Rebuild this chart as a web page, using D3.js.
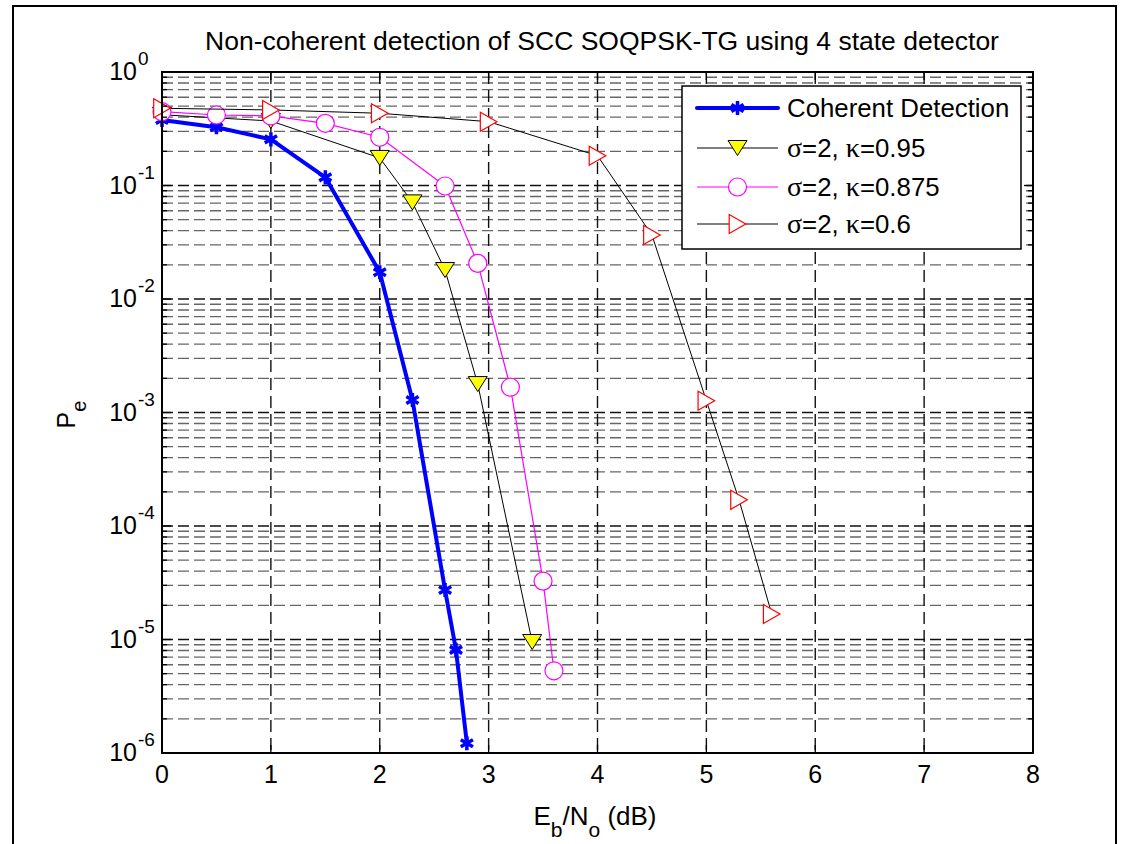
<!DOCTYPE html>
<html>
<head>
<meta charset="utf-8">
<script src="https://cdn.jsdelivr.net/npm/d3@7"></script>
<style>
  body { margin: 0; background: #fff; }
  svg text { font-family: "Liberation Sans", Arial, sans-serif; fill: #000; }
  .greek { font-family: "Liberation Serif", "Times New Roman", serif; }
</style>
</head>
<body>
<div id="chart"></div>
<script>
// Data (Eb/No in dB, Pe)
const ebnoCoherent = [0, 0.5, 1, 1.5, 2, 2.3, 2.6, 2.7, 2.8];
const peCoherent = [0.378, 0.326, 0.255, 0.118, 0.0172, 1.29e-3, 2.73e-5, 8.1e-6, 1.22e-6];

const ebnoK095 = [0, 1, 2, 2.3, 2.6, 2.9, 3.4];
const peK095 = [0.42, 0.37, 0.175, 0.071, 0.018, 1.78e-3, 9.5e-6];

const ebnoK0875 = [0, 0.5, 1, 1.5, 2, 2.6, 2.9, 3.2, 3.5, 3.6];
const peK0875 = [0.447, 0.418, 0.41, 0.353, 0.266, 0.099, 0.0206, 1.67e-3, 3.27e-5, 5.3e-6];

const ebnoK06 = [0, 1, 2, 3, 4, 4.5, 5, 5.3, 5.6];
const peK06 = [0.479, 0.463, 0.433, 0.365, 0.183, 0.0366, 1.27e-3, 1.7e-4, 1.68e-5];

const xTicks = [0, 1, 2, 3, 4, 5, 6, 7, 8];
const yDecades = [0, -1, -2, -3, -4, -5, -6];

const seriesNames = ["Coherent Detection", "0.95", "0.875", "0.6"];

class PeVis {
  constructor(_parentElement) {
    this.parentElement = _parentElement;
    this.initVis();
  }

  initVis() {
    let vis = this;

    vis.width = 1121;
    vis.height = 844;
    vis.plot = { left: 162, right: 1033, top: 72, bottom: 753 };

    vis.svg = d3
      .select("#" + vis.parentElement)
      .append("svg")
      .attr("width", vis.width)
      .attr("height", vis.height);

    // outer figure frame
    vis.svg
      .append("rect")
      .attr("x", 13)
      .attr("y", 6)
      .attr("width", 1103)
      .attr("height", 860)
      .attr("fill", "none")
      .attr("stroke", "#000")
      .attr("stroke-width", 2);

    // Scales
    vis.x = d3.scaleLinear().domain([0, 8]).range([vis.plot.left, vis.plot.right]);
    vis.y = d3.scaleLog().domain([1e-6, 1]).range([vis.plot.bottom, vis.plot.top]);

    vis.gridGroup = vis.svg.append("g").attr("class", "grid");
    vis.dataGroup = vis.svg.append("g").attr("class", "data");
    vis.axisGroup = vis.svg.append("g").attr("class", "axes");

    // Title
    vis.svg
      .append("text")
      .attr("x", 602)
      .attr("y", 50)
      .attr("text-anchor", "middle")
      .style("font-size", "26.5px")
      .text("Non-coherent detection of SCC SOQPSK-TG using 4 state detector");

    // X axis title
    let xt = vis.svg
      .append("text")
      .attr("x", 595)
      .attr("y", 825)
      .attr("text-anchor", "middle")
      .style("font-size", "26px");
    xt.append("tspan").text("E");
    xt.append("tspan").attr("dy", 12).style("font-size", "21px").text("b");
    xt.append("tspan").attr("dy", -12).text("/N");
    xt.append("tspan").attr("dy", 12).style("font-size", "21px").text("o");
    xt.append("tspan").attr("dy", -12).text(" (dB)");

    // Y axis title
    let yt = vis.svg
      .append("text")
      .attr("transform", "translate(75," + ((vis.plot.top + vis.plot.bottom) / 2 + 2) + ") rotate(-90)")
      .attr("text-anchor", "middle")
      .style("font-size", "25px");
    yt.append("tspan").text("P");
    yt.append("tspan").attr("dy", 11).style("font-size", "20px").text("e");

    vis.updateVis();
  }

  updateVis() {
    let vis = this;
    let p = vis.plot;

    // minor decades values
    let minors = [];
    yDecades.slice(0, -1).forEach(function (d) {
      for (let m = 2; m <= 9; m++) minors.push(m * Math.pow(10, d - 1));
    });
    let majors = yDecades.map(function (d) {
      return Math.pow(10, d);
    });

    // minor horizontal grid
    vis.gridGroup
      .selectAll(".minor-h")
      .data(minors)
      .enter()
      .append("line")
      .attr("x1", p.left)
      .attr("x2", p.right)
      .attr("y1", (d) => vis.y(d))
      .attr("y2", (d) => vis.y(d))
      .attr("stroke", "#666")
      .attr("stroke-width", 1.4)
      .attr("stroke-dasharray", "11,5");

    // major horizontal grid
    vis.gridGroup
      .selectAll(".major-h")
      .data(majors.slice(1, -1))
      .enter()
      .append("line")
      .attr("x1", p.left)
      .attr("x2", p.right)
      .attr("y1", (d) => vis.y(d))
      .attr("y2", (d) => vis.y(d))
      .attr("stroke", "#111")
      .attr("stroke-width", 1.4)
      .attr("stroke-dasharray", "11,5");

    // vertical grid
    vis.gridGroup
      .selectAll(".major-v")
      .data(xTicks.slice(1, -1))
      .enter()
      .append("line")
      .attr("x1", (d) => vis.x(d))
      .attr("x2", (d) => vis.x(d))
      .attr("y1", p.top)
      .attr("y2", p.bottom)
      .attr("stroke", "#111")
      .attr("stroke-width", 1.4)
      .attr("stroke-dasharray", "12,6");

    // Series
    let series = [
      { xs: ebnoCoherent, ys: peCoherent, color: "#0000ff", width: 4, marker: "star" },
      { xs: ebnoK095, ys: peK095, color: "#000", width: 1, marker: "down" },
      { xs: ebnoK0875, ys: peK0875, color: "#ff00ff", width: 1.2, marker: "circle" },
      { xs: ebnoK06, ys: peK06, color: "#000", width: 1, marker: "right" },
    ];

    vis.line = d3
      .line()
      .x((d) => vis.x(d[0]))
      .y((d) => vis.y(d[1]));

    series.forEach(function (s) {
      let pts = d3.zip(s.xs, s.ys);
      let g = vis.dataGroup.append("g");
      g.append("path")
        .datum(pts)
        .attr("d", vis.line)
        .attr("fill", "none")
        .attr("stroke", s.color)
        .attr("stroke-width", s.width)
        .attr("stroke-linejoin", "round");
      pts.forEach(function (d) {
        vis.drawMarker(g, s.marker, vis.x(d[0]), vis.y(d[1]));
      });
    });

    // Axes box
    vis.axisGroup
      .append("rect")
      .attr("x", p.left)
      .attr("y", p.top)
      .attr("width", p.right - p.left)
      .attr("height", p.bottom - p.top)
      .attr("fill", "none")
      .attr("stroke", "#000")
      .attr("stroke-width", 2);

    // x ticks (bottom and top, inward)
    xTicks.forEach(function (t) {
      let xx = vis.x(t);
      vis.axisGroup.append("line").attr("x1", xx).attr("x2", xx)
        .attr("y1", p.bottom).attr("y2", p.bottom - 8).attr("stroke", "#000").attr("stroke-width", 1.3);
      vis.axisGroup.append("line").attr("x1", xx).attr("x2", xx)
        .attr("y1", p.top).attr("y2", p.top + 8).attr("stroke", "#000").attr("stroke-width", 1.3);
      vis.axisGroup.append("text")
        .attr("x", xx)
        .attr("y", 783)
        .attr("text-anchor", "middle")
        .style("font-size", "25px")
        .text(t);
    });

    // y ticks (left and right, inward)
    majors.concat(minors).forEach(function (v) {
      let yy = vis.y(v);
      let len = majors.indexOf(v) >= 0 ? 9 : 5;
      vis.axisGroup.append("line").attr("x1", p.left).attr("x2", p.left + len)
        .attr("y1", yy).attr("y2", yy).attr("stroke", "#000").attr("stroke-width", 1.3);
      vis.axisGroup.append("line").attr("x1", p.right).attr("x2", p.right - len)
        .attr("y1", yy).attr("y2", yy).attr("stroke", "#000").attr("stroke-width", 1.3);
    });

    yDecades.forEach(function (d) {
      let yy = vis.y(Math.pow(10, d));
      vis.axisGroup.append("text")
        .attr("x", 137)
        .attr("y", yy + 8)
        .attr("text-anchor", "end")
        .style("font-size", "25px")
        .text("10");
      vis.axisGroup.append("text")
        .attr("x", 138)
        .attr("y", yy - 7)
        .style("font-size", "19px")
        .text(d);
    });

    // Legend
    let leg = vis.svg.append("g").attr("class", "legend");
    leg.append("rect")
      .attr("x", 682)
      .attr("y", 86)
      .attr("width", 339)
      .attr("height", 163)
      .attr("fill", "#fff")
      .attr("stroke", "#000")
      .attr("stroke-width", 1.5);

    let rowY = [108, 148, 187, 224];
    series.forEach(function (s, i) {
      let yy = rowY[i];
      leg.append("line")
        .attr("x1", 697).attr("x2", 778)
        .attr("y1", yy).attr("y2", yy)
        .attr("stroke", s.color)
        .attr("stroke-width", s.width)
        .attr("stroke-linecap", i === 0 ? "round" : "butt");
      vis.drawMarker(leg, s.marker, 737.5, yy);
      let t = leg.append("text")
        .attr("x", 787)
        .attr("y", yy + 9)
        .style("font-size", "25.8px");
      if (i === 0) {
        t.text(seriesNames[i]);
      } else {
        t.append("tspan").attr("class", "greek").style("font-size", "28px").text("σ");
        t.append("tspan").text("=2, ");
        t.append("tspan").attr("class", "greek").style("font-size", "28px").text("κ");
        t.append("tspan").text("=" + seriesNames[i]);
      }
    });
  }

  drawMarker(g, type, cx, cy) {
    if (type === "star") {
      g.append("path")
        .attr("d", d3.symbol().type(d3.symbolAsterisk).size(140)())
        .attr("transform", "translate(" + cx + "," + cy + ")")
        .attr("fill", "none")
        .attr("stroke", "#0000ff")
        .attr("stroke-width", 3.5);
    } else if (type === "down") {
      g.append("path")
        .attr("d", "M-9.5,-7.5L9.5,-7.5L0,7.5Z")
        .attr("transform", "translate(" + cx + "," + cy + ")")
        .attr("fill", "#ffff00")
        .attr("stroke", "#000")
        .attr("stroke-width", 1);
    } else if (type === "circle") {
      g.append("circle")
        .attr("cx", cx)
        .attr("cy", cy)
        .attr("r", 9)
        .attr("fill", "#fff")
        .attr("stroke", "#ff00ff")
        .attr("stroke-width", 1.2);
    } else if (type === "right") {
      g.append("path")
        .attr("d", "M-8.3,-9.5L8.3,0L-8.3,9.5Z")
        .attr("transform", "translate(" + cx + "," + cy + ")")
        .attr("fill", "#fff")
        .attr("stroke", "#ff0000")
        .attr("stroke-width", 1.2);
    }
  }
}

new PeVis("chart");
</script>
</body>
</html>
